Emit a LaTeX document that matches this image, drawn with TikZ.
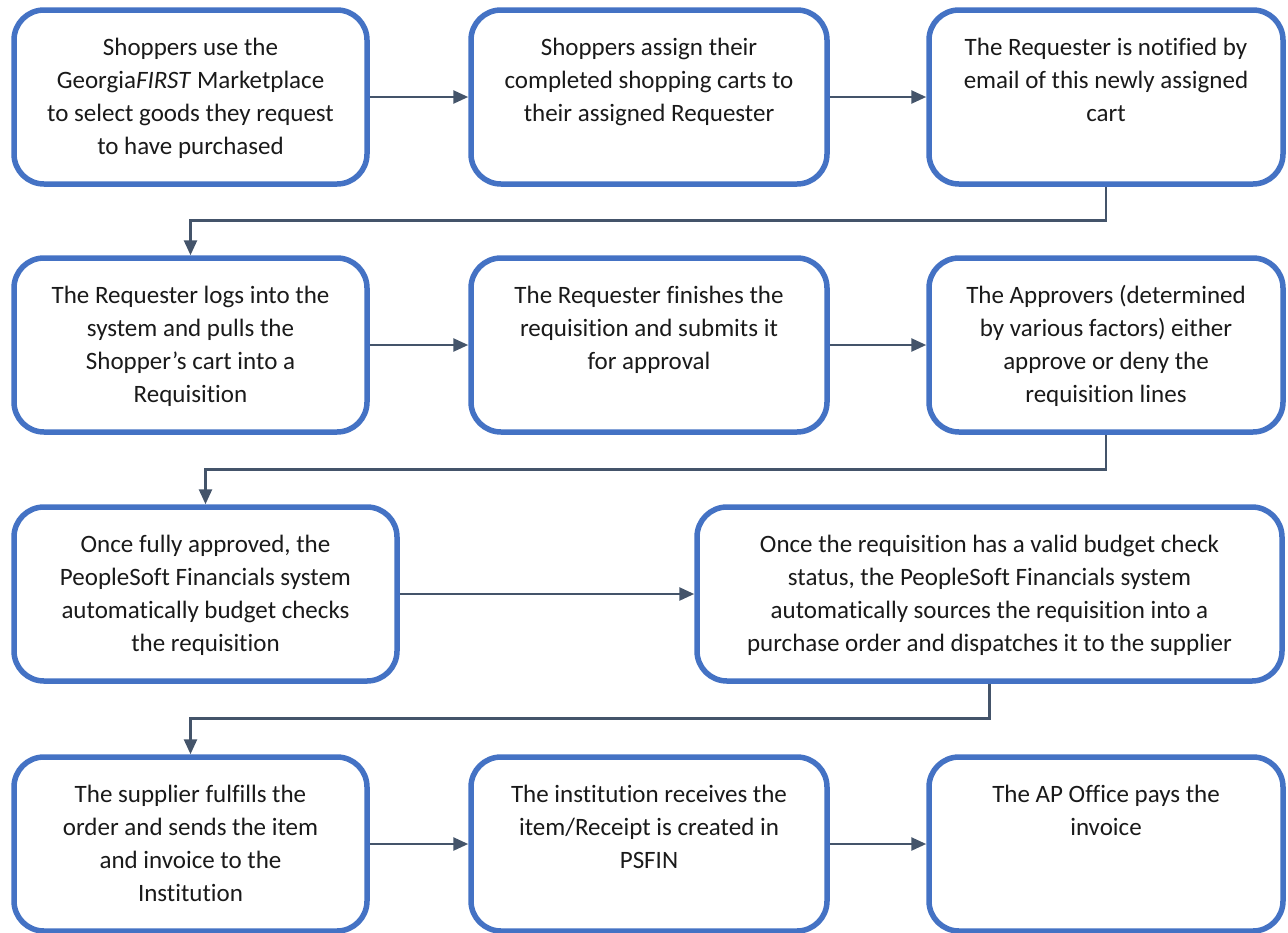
\documentclass[tikz,border=0pt]{standalone}
\usepackage{fontspec}
\setmainfont{Carlito}[Ligatures=NoCommon]
\usetikzlibrary{arrows.meta,calc}
\definecolor{boxblue}{HTML}{4472C4}
\definecolor{arrgray}{HTML}{44546A}
\definecolor{txtcol}{HTML}{1A1A1A}
\newcommand{\boxtext}[2]{\parbox[t][122pt][t]{#1pt}{\centering\rule{0pt}{19pt}#2}}
\begin{document}
\begin{tikzpicture}[x=1pt,y=-1pt,
  stepbox/.style={draw=boxblue, line width=5.5pt, rounded corners=30pt, fill=white,
    inner sep=0pt, minimum height=174pt, text=txtcol, font=\fontsize{25}{33}\selectfont},
  arr/.style={draw=arrgray, line width=2.6pt, -{Triangle[length=15pt,width=13pt]}}]
\useasboundingbox (0,0) rectangle (1288,932);

% row 1
\node[stepbox, minimum width=353pt] (b1) at (190.5,97) {\boxtext{340}{Shoppers use the\\ Georgia\textit{FIRST} Marketplace\\ to select goods they request\\ to have purchased}};
\node[stepbox, minimum width=356pt] (b2) at (649,97) {\boxtext{340}{Shoppers assign their\\ completed shopping carts to\\ their assigned Requester}};
\node[stepbox, minimum width=354pt] (b3) at (1106,97) {\boxtext{340}{The Requester is notified by\\ email of this newly assigned\\ cart}};
% row 2
\node[stepbox, minimum width=353pt] (b4) at (190.5,345) {\boxtext{340}{The Requester logs into the\\ system and pulls the\\ Shopper’s cart into a\\ Requisition}};
\node[stepbox, minimum width=356pt] (b5) at (649,345) {\boxtext{340}{The Requester finishes the\\ requisition and submits it\\ for approval}};
\node[stepbox, minimum width=354pt] (b6) at (1106,345) {\boxtext{340}{The Approvers (determined\\ by various factors) either\\ approve or deny the\\ requisition lines}};
% row 3
\node[stepbox, minimum width=383pt] (b7) at (205.5,594) {\boxtext{370}{Once fully approved, the\\ PeopleSoft Financials system\\ automatically budget checks\\ the requisition}};
\node[stepbox, minimum width=585pt] (b8) at (989.5,594) {\boxtext{570}{Once the requisition has a valid budget check\\ status, the PeopleSoft Financials system\\ automatically sources the requisition into a\\ purchase order and dispatches it to the supplier}};
% row 4
\node[stepbox, minimum width=353pt] (b9) at (190.5,844) {\boxtext{340}{The supplier fulfills the\\ order and sends the item\\ and invoice to the\\ Institution}};
\node[stepbox, minimum width=356pt] (b10) at (649,844) {\boxtext{340}{The institution receives the\\ item/Receipt is created in\\ PSFIN}};
\node[stepbox, minimum width=354pt] (b11) at (1106,844) {\boxtext{340}{The AP Office pays the\\ invoice}};

% connectors
\draw[arr] (b1.east) -- (b2.west);
\draw[arr] (b2.east) -- (b3.west);
\draw[arr] (b3.south) -- ++(0,34) -| (b4.north);
\draw[arr] (b4.east) -- (b5.west);
\draw[arr] (b5.east) -- (b6.west);
\draw[arr] (b6.south) -- ++(0,35) -| (b7.north);
\draw[arr] (b7.east) -- (b8.west);
\draw[arr] (b8.south) -- ++(0,35) -| (b9.north);
\draw[arr] (b9.east) -- (b10.west);
\draw[arr] (b10.east) -- (b11.west);
\end{tikzpicture}
\end{document}
